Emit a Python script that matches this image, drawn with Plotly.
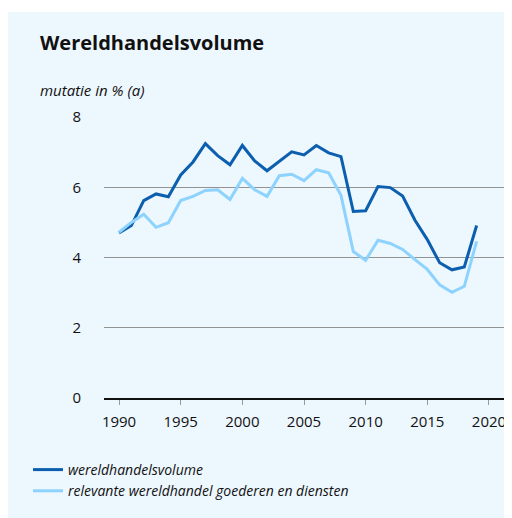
import plotly.graph_objects as go

years = list(range(1990, 2020))
wereldhandelsvolume = [4.70, 4.91, 5.62, 5.81, 5.73, 6.35, 6.72, 7.24, 6.90, 6.64,
                       7.19, 6.75, 6.47, 6.74, 7.01, 6.92, 7.19, 6.98, 6.87, 5.31,
                       5.33, 6.02, 5.99, 5.75, 5.06, 4.51, 3.85, 3.65, 3.73, 4.91]
relevante = [4.72, 5.00, 5.23, 4.86, 4.99, 5.62, 5.74, 5.91, 5.93, 5.65,
             6.25, 5.93, 5.74, 6.33, 6.37, 6.19, 6.50, 6.41, 5.77, 4.17,
             3.92, 4.49, 4.40, 4.23, 3.94, 3.66, 3.22, 3.01, 3.18, 4.46]
series_names = ["wereldhandelsvolume", "relevante wereldhandel goederen en diensten"]
x_ticks = [1990, 1995, 2000, 2005, 2010, 2015, 2020]
y_ticks = [0, 2, 4, 6, 8]

FONT = "Open Sans"
DARK = "#0b5fae"
LIGHT = "#8dd3fd"
BG = "#edf7fe"

# figure is placed at an 8px page offset; layout in figure pixels
W, H = 504, 510
L, R, T, B = 96, 8, 109, 120
PW, PH = W - L - R, H - T - B


def px(x):
    return (x - L) / PW


def py(y):
    return (H - B - y) / PH


fig = go.Figure()
fig.add_trace(go.Scatter(x=years, y=wereldhandelsvolume, mode="lines", name=series_names[0],
                         line=dict(color=DARK, width=3)))
fig.add_trace(go.Scatter(x=years, y=relevante, mode="lines", name=series_names[1],
                         line=dict(color=LIGHT, width=3)))

fig.update_layout(
    width=W, height=H,
    paper_bgcolor="white", plot_bgcolor=BG,
    margin=dict(l=L, r=R, t=T, b=B, autoexpand=False),
    font=dict(family=FONT, size=14, color="#111111"),
    showlegend=True,
    legend=dict(x=px(20), xanchor="left", y=py(446), yanchor="top",
                bgcolor="rgba(0,0,0,0)", tracegroupgap=0,
                font=dict(family=FONT, size=14, style="italic", color="#111111"),
                itemwidth=30),
    shapes=[dict(type="rect", xref="paper", yref="paper", layer="below",
                 x0=px(0), x1=px(W), y0=py(H), y1=py(4),
                 fillcolor=BG, line=dict(width=0))],
    annotations=[
        dict(text="<b>Wereldhandelsvolume</b>", xref="paper", yref="paper",
             x=px(30), y=py(35), xanchor="left", yanchor="middle",
             showarrow=False, font=dict(family=FONT, size=20, color="#111111")),
        dict(text="<i>mutatie in % (a)</i>", xref="paper", yref="paper",
             x=px(30), y=py(82), xanchor="left", yanchor="middle",
             showarrow=False, font=dict(family=FONT, size=15, color="#111111")),
    ],
)
fig.update_xaxes(range=[1988.78, 2021.22], tickvals=x_ticks, ticks="outside", ticklen=5,
                 tickcolor="#999999", tickwidth=1, showgrid=False, zeroline=False,
                 showline=True, linecolor="#111111", linewidth=2,
                 tickfont=dict(size=15), ticklabelstandoff=4)
fig.update_yaxes(range=[0, 8], tickvals=y_ticks, showgrid=True, gridcolor="#939393",
                 gridwidth=1, zeroline=False, showline=False, ticks="",
                 tickfont=dict(size=15), ticklabelstandoff=22)

fig.write_html("out.html")
